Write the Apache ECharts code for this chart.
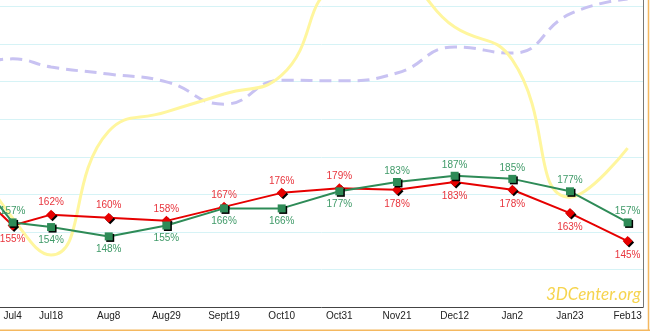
<!DOCTYPE html>
<html><head><meta charset="utf-8">
<script src="https://cdn.jsdelivr.net/npm/echarts@6/dist/echarts.min.js"></script>
<style>html,body{margin:0;padding:0;background:#fff;overflow:hidden}#c{width:650px;height:331px}</style>
</head><body><div id="c"></div>
<script>
// Survey dates (first one lies just left of the visible window)
const dates = ['2021-06-13','2021-07-04','2021-07-18','2021-08-08','2021-08-29','2021-09-19','2021-10-10','2021-10-31','2021-11-21','2021-12-12','2022-01-02','2022-01-23','2022-02-13'];
const tickLabels = ['','Jul4','Jul18','Aug8','Aug29','Sept19','Oct10','Oct31','Nov21','Dec12','Jan2','Jan23','Feb13'];
// Percent series (red = AMD, green = nVidia)
const redValues   = [191, 155, 162, 160, 158, 167, 176, 179, 178, 183, 178, 163, 145];
const greenValues = [203.5, 157, 154, 148, 155, 166, 166, 177, 183, 187, 185, 177, 157];
// Background trend curves (index, 0-100 of plot height)
const yellowValues = [52.4, 26.3, 15.4, 52.0, 57.7, 63.0, 68.6, 94.4, 95.5, 82.8, 73.1, 32.5, 47.0];
const purpleValues = [69.5, 73.4, 71.0, 68.9, 66.6, 60.0, 67.1, 66.9, 69.2, 76.9, 75.1, 86.7, 91.1];

const DAY = 86400000;
const t0 = Date.parse('2021-07-04T00:00:00Z');
const dayOf = d => Math.round((Date.parse(d + 'T00:00:00Z') - t0) / DAY);
const days = dates.map(dayOf);
const labelDays = days.filter((d, i) => tickLabels[i] !== '');
const labelMap = {}; days.forEach((d, i) => { labelMap[d] = tickLabels[i]; });

const pts = vals => vals.map((v, i) => [days[i], v]);
const FONT = 'Liberation Sans, Arial, sans-serif';

function pctSeries(name, vals, other, color, labelColor, symbol, size, z) {
  return {
    name, type: 'line', yAxisIndex: 1, z,
    data: vals.map((v, i) => ({
      value: [days[i], v],
      label: {
        show: tickLabels[i] !== '',
        position: v >= other[i] ? 'top' : 'bottom',
        distance: v >= other[i] ? 2 : 4
      }
    })),
    symbol, symbolSize: size, showSymbol: true,
    lineStyle: { color, width: 2 },
    itemStyle: { color, shadowColor: '#000', shadowBlur: 0, shadowOffsetX: 1.5, shadowOffsetY: 1.5 },
    label: { color: labelColor, fontSize: 10, fontFamily: FONT, formatter: p => p.value[1] + '%' },
    emphasis: { disabled: true },
    animation: false
  };
}

const chart = echarts.init(document.getElementById('c'), null, { renderer: 'canvas' });
chart.setOption({
  animation: false,
  backgroundColor: '#fff',
  grid: { left: 0, right: 7, top: -31.06, bottom: 24, outerBoundsMode: 'none' },
  xAxis: {
    type: 'value', min: -4.6, max: 229.6,
    axisLine: { show: true, onZero: false, lineStyle: { color: '#444', width: 1 } },
    axisTick: { show: false },
    splitLine: { show: false },
    axisLabel: {
      customValues: labelDays,
      formatter: v => labelMap[v] || '',
      color: '#222', fontSize: 10, fontFamily: FONT, margin: 4,
      showMinLabel: true, showMaxLabel: true, hideOverlap: false
    }
  },
  yAxis: [
    { type: 'value', min: 0, max: 9, interval: 1, position: 'right',
      axisLine: { show: true, onZero: false, lineStyle: { color: '#777', width: 1 } },
      axisTick: { show: false }, axisLabel: { show: false },
      splitLine: { show: true, lineStyle: { color: '#d6f3f6', width: 1 } } },
    { type: 'value', min: 102.6, max: 320, show: false, splitLine: { show: false } },
    { type: 'value', min: 0, max: 100, show: false, splitLine: { show: false } }
  ],
  series: [
    { name: 'purple', type: 'line', yAxisIndex: 2, data: pts(purpleValues), smooth: true, showSymbol: false,
      lineStyle: { color: '#c8c2f2', width: 3, type: [12, 7] }, z: 1, emphasis: { disabled: true } },
    { name: 'yellow', type: 'line', yAxisIndex: 2, data: pts(yellowValues), smooth: true, showSymbol: false,
      lineStyle: { color: '#fff69e', width: 3 }, z: 1, emphasis: { disabled: true } },
    pctSeries('red', redValues, greenValues, '#e60000', '#e8343c', 'diamond', 10, 3),
    pctSeries('green', greenValues, redValues, '#2e8b57', '#3f9a68', 'rect', 8, 4)
  ],
  graphic: [
    { type: 'text', right: 9, top: 286, z: 0,
      style: { text: '3DCenter.org', fill: '#f6d44e', font: 'italic 17px Lato, "Open Sans", sans-serif' } },
    { type: 'line', shape: { x1: 648.5, y1: 0, x2: 648.5, y2: 331 }, style: { stroke: '#f4b860', lineWidth: 1.5 } },
    { type: 'line', shape: { x1: 0, y1: 330.2, x2: 650, y2: 330.2 }, style: { stroke: '#f4b860', lineWidth: 1.5 } }
  ]
});
</script>
</body></html>
